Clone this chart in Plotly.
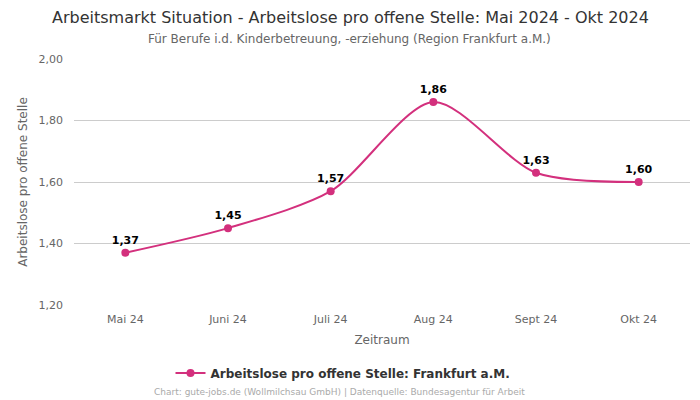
import plotly.graph_objects as go

months = ["Mai 24", "Juni 24", "Juli 24", "Aug 24", "Sept 24", "Okt 24"]
values = [1.37, 1.45, 1.57, 1.86, 1.63, 1.60]
labels = ["1,37", "1,45", "1,57", "1,86", "1,63", "1,60"]
yticks = [1.2, 1.4, 1.6, 1.8, 2.0]
series_name = "Arbeitslose pro offene Stelle: Frankfurt a.M."

color = "#d3307d"
font = "DejaVu Sans"

W, H = 700, 400
PLOT_LEFT, PLOT_RIGHT = 74, 690
PLOT_TOP, PLOT_BOTTOM = 59, 305
PLOT_W = PLOT_RIGHT - PLOT_LEFT
PLOT_H = PLOT_BOTTOM - PLOT_TOP

def xpix(px):
    return (px - PLOT_LEFT) / PLOT_W

def ypix(py):
    return (PLOT_BOTTOM - py) / PLOT_H

fig = go.Figure()
fig.add_trace(go.Scatter(
    x=months, y=values, mode="lines+markers+text",
    name=series_name,
    line=dict(color=color, width=2, shape="spline", smoothing=0.8),
    marker=dict(color=color, size=8),
    text=labels, textposition="top center",
    textfont=dict(family=font, size=11, color="#000000", weight="bold"),
    cliponaxis=False,
))

fig.update_layout(
    width=W, height=H,
    margin=dict(l=PLOT_LEFT, r=W - PLOT_RIGHT, t=PLOT_TOP, b=H - PLOT_BOTTOM, autoexpand=False),
    paper_bgcolor="white", plot_bgcolor="white",
    font=dict(family=font, color="#666666"),
    separators=",.",
    showlegend=True,
    legend=dict(orientation="h", x=xpix(343), xanchor="center",
                y=ypix(373), yanchor="middle",
                font=dict(family=font, size=12, color="#333333", weight="bold")),
    xaxis=dict(
        type="category", showgrid=False, showline=False, ticks="",
        ticklabelstandoff=6,
        tickfont=dict(size=11, color="#666666"),
        title=dict(text="Zeitraum", font=dict(size=12, color="#666666"), standoff=10),
        range=[-0.5, 5.5],
    ),
    yaxis=dict(
        range=[1.2, 2.0], tickvals=yticks, tickformat=".2f",
        showgrid=True, gridcolor="#cccccc", gridwidth=1,
        zeroline=False, showline=False, ticks="",
        ticklabelstandoff=10,
        tickfont=dict(size=11, color="#666666"),
        title=dict(text="Arbeitslose pro offene Stelle", font=dict(size=12, color="#666666"), standoff=8),
    ),
)

fig.add_annotation(text="Arbeitsmarkt Situation - Arbeitslose pro offene Stelle: Mai 2024 - Okt 2024",
                   xref="paper", yref="paper", x=xpix(350), y=ypix(17), xanchor="center", yanchor="middle",
                   font=dict(family=font, size=16, color="#333333"), showarrow=False)
fig.add_annotation(text="Für Berufe i.d. Kinderbetreuung, -erziehung (Region Frankfurt a.M.)",
                   xref="paper", yref="paper", x=xpix(349), y=ypix(39), xanchor="center", yanchor="middle",
                   font=dict(family=font, size=12, color="#666666"), showarrow=False)
fig.add_annotation(text="Chart: gute-jobs.de (Wollmilchsau GmbH) | Datenquelle: Bundesagentur für Arbeit",
                   xref="paper", yref="paper", x=xpix(339), y=ypix(392), xanchor="center", yanchor="middle",
                   font=dict(family=font, size=9, color="#aaaaaa"), showarrow=False)

fig.write_html("out.html", config={"displayModeBar": False},
               post_script="document.body.style.margin='0';document.body.style.padding='0';")
